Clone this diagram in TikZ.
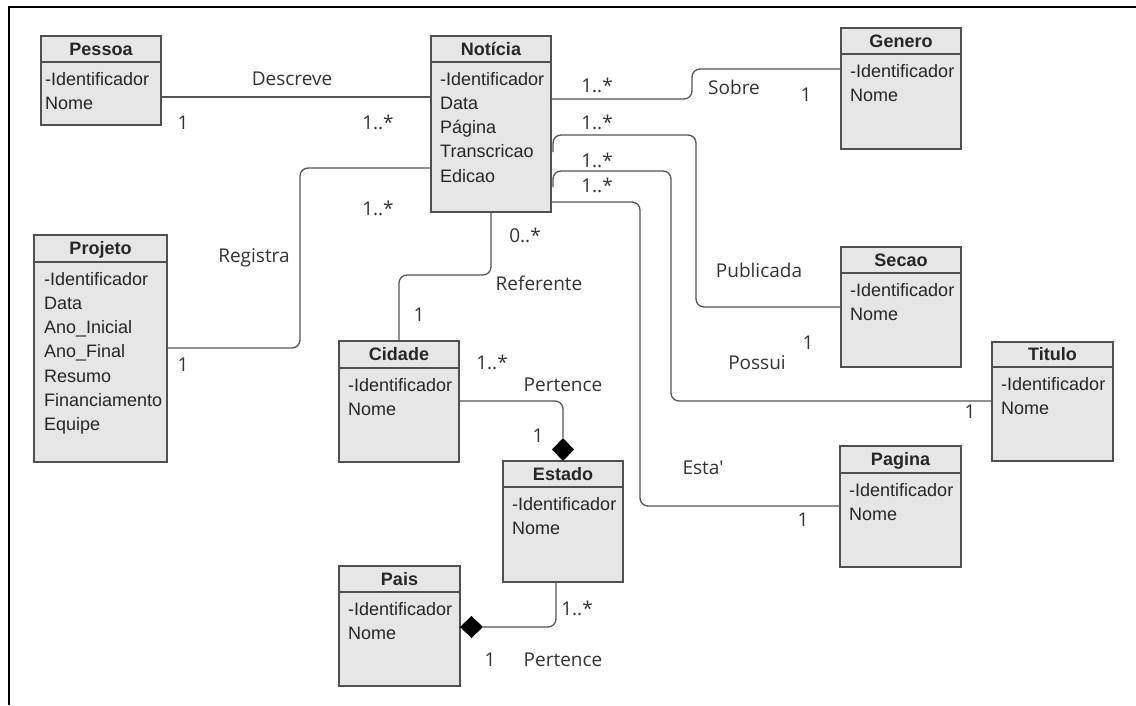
\documentclass[tikz,border=0pt]{standalone}
\usepackage{fontspec}
\newfontfamily\attrfont{Liberation Sans}
\newfontfamily\lblfont{Open Sans}
\usetikzlibrary{arrows.meta,calc,shapes.geometric}
\definecolor{boxfill}{HTML}{E6E6E6}
\definecolor{boxline}{HTML}{505050}
\definecolor{connline}{HTML}{555555}
\tikzset{
  classbox/.style={draw=boxline, fill=boxfill, line width=1.4pt, inner sep=0pt, outer sep=0pt},
  sepline/.style={draw=boxline, line width=1.4pt},
  classtitle/.style={font=\attrfont\bfseries\fontsize{18}{22}\selectfont, inner sep=0pt, text=black!85},
  attr/.style={font=\attrfont\fontsize{18}{22}\selectfont, inner sep=0pt, text=black!85},
  lbl/.style={font=\lblfont\fontsize{19}{23}\selectfont, inner sep=0pt, text=black!80},
  conn/.style={draw=connline, line width=1.3pt, rounded corners=8pt},
  aggdiamond/.style={diamond, fill=black, draw=none, inner sep=0pt, outer sep=0pt, minimum width=#1},
  frame/.style={draw=black, line width=2pt},
}
% name, x1, y1, x2, yh, y2, title, attributes, inset
\newcommand{\umlclass}[9]{%
  \pgfmathsetmacro\cw{#4-#2}%
  \pgfmathsetmacro\ch{#6-#3}%
  \node[classbox, anchor=north west, minimum width=\cw pt, minimum height=\ch pt] (#1) at (#2,#3) {};
  \draw[sepline] (#2,#5) -- (#4,#5);
  \node[classtitle, anchor=base] (#1-title) at ({(#2+#4)/2},{(#3+#5)/2+6}) {#7};
  \foreach \a [count=\i] in {#8} {
    \node[attr, anchor=base west] (#1-a\i) at ({#2+#9},{#5+23+(\i-1)*24.3}) {\a};
  }
}
\begin{document}
\begin{tikzpicture}[x=1pt,y=-1pt]
\useasboundingbox (0,0) rectangle (1136,705);
\fill[white] (0,0) rectangle (1136,705);
\draw[frame] (9,705) -- (9,7) -- (1136,7);

\umlclass{pessoa}{41}{36}{161}{62}{125}{Pessoa}{-Identificador,Nome}{4}
\umlclass{noticia}{431}{36}{551}{62}{212}{Notícia}{-Identificador,Data,Página,Transcricao,Edicao}{9}
\umlclass{genero}{841}{28}{961}{54}{149}{Genero}{-Identificador,Nome}{9}
\umlclass{projeto}{34}{235}{167}{262}{462}{Projeto}{-Identificador,Data,Ano\_Inicial,Ano\_Final,Resumo,Financiamento,Equipe}{10}
\umlclass{cidade}{339}{341}{459}{368}{462}{Cidade}{-Identificador,Nome}{9}
\umlclass{estado}{503}{461}{623}{487}{582}{Estado}{-Identificador,Nome}{9}
\umlclass{pais}{339}{566}{460}{592}{686}{Pais}{-Identificador,Nome}{9}
\umlclass{secao}{841}{247}{961}{273}{367}{Secao}{-Identificador,Nome}{9}
\umlclass{titulo}{992}{342}{1113}{367}{461}{Titulo}{-Identificador,Nome}{9}
\umlclass{pagina}{840}{446}{961}{473}{567}{Pagina}{-Identificador,Nome}{9}

% aggregation diamonds
\node[aggdiamond=22pt, minimum height=23pt, anchor=south] (d-estado) at (estado.north) {};
\node[aggdiamond=23pt, minimum height=22pt, anchor=west] (d-pais) at (pais.east |- 0,627) {};

% connectors
\draw[conn] ([yshift=-61pt]pessoa.north east) -- ([yshift=-61pt]noticia.north west);
\draw[conn] ([yshift=-63pt]noticia.north east) -- ++(141,0) |- ([yshift=-41pt]genero.north west);
\draw[conn] ([xshift=2pt,yshift=-116pt]noticia.north east) |- ([xshift=145pt,yshift=-99pt]noticia.north east) |- ([yshift=-60pt]secao.north west);
\draw[conn] ([xshift=2pt,yshift=-151pt]noticia.north east) |- ([xshift=120pt,yshift=-135pt]noticia.north east) |- ([yshift=-59pt]titulo.north west);
\draw[conn] ([yshift=-166pt]noticia.north east) -- ++(89,0) |- ([yshift=-60pt]pagina.north west);
\draw[conn] ([yshift=-132pt]noticia.north west) -- ++(-131,0) |- ([yshift=-113pt]projeto.north east);
\draw[conn] (noticia.south) |- ([yshift=66pt]cidade.north) -- (cidade.north);
\draw[conn] ([yshift=-60pt]cidade.north east) -| (d-estado.north);
\draw[conn] ([xshift=-7pt]estado.south) |- (d-pais.east);

% labels
\node[lbl] (l-descreve) at (292,79) {Descreve};
\node[lbl] (m-pessoa) at (183,123) {1};
\node[lbl] (m-not1) at (378,122) {1..*};
\node[lbl] (l-sobre) at (734,87) {Sobre};
\node[lbl] (m-not2) at (597,85) {1..*};
\node[lbl] (m-genero) at (806,95) {1};
\node[lbl] (m-not3) at (597,122) {1..*};
\node[lbl] (l-publicada) at (759,270) {Publicada};
\node[lbl] (m-secao) at (808,343) {1};
\node[lbl] (m-not4) at (597,160) {1..*};
\node[lbl] (l-possui) at (757,363) {Possui};
\node[lbl] (m-titulo) at (970,412) {1};
\node[lbl] (m-not5) at (597,185) {1..*};
\node[lbl] (l-esta) at (703,468) {Esta'};
\node[lbl] (m-pagina) at (803,520) {1};
\node[lbl] (l-registra) at (254,258) {Registra};
\node[lbl] (m-not6) at (378,208) {1..*};
\node[lbl] (m-projeto) at (183,365) {1};
\node[lbl] (l-referente) at (539,283) {Referente};
\node[lbl] (m-not7) at (525,235) {0..*};
\node[lbl] (m-cidade) at (419,315) {1};
\node[lbl] (l-pertence1) at (563,385) {Pertence};
\node[lbl] (m-cid2) at (492,362) {1..*};
\node[lbl] (m-est1) at (538,436) {1};
\node[lbl] (l-pertence2) at (563,660) {Pertence};
\node[lbl] (m-est2) at (577,608) {1..*};
\node[lbl] (m-pais) at (490,660) {1};
\end{tikzpicture}
\end{document}
